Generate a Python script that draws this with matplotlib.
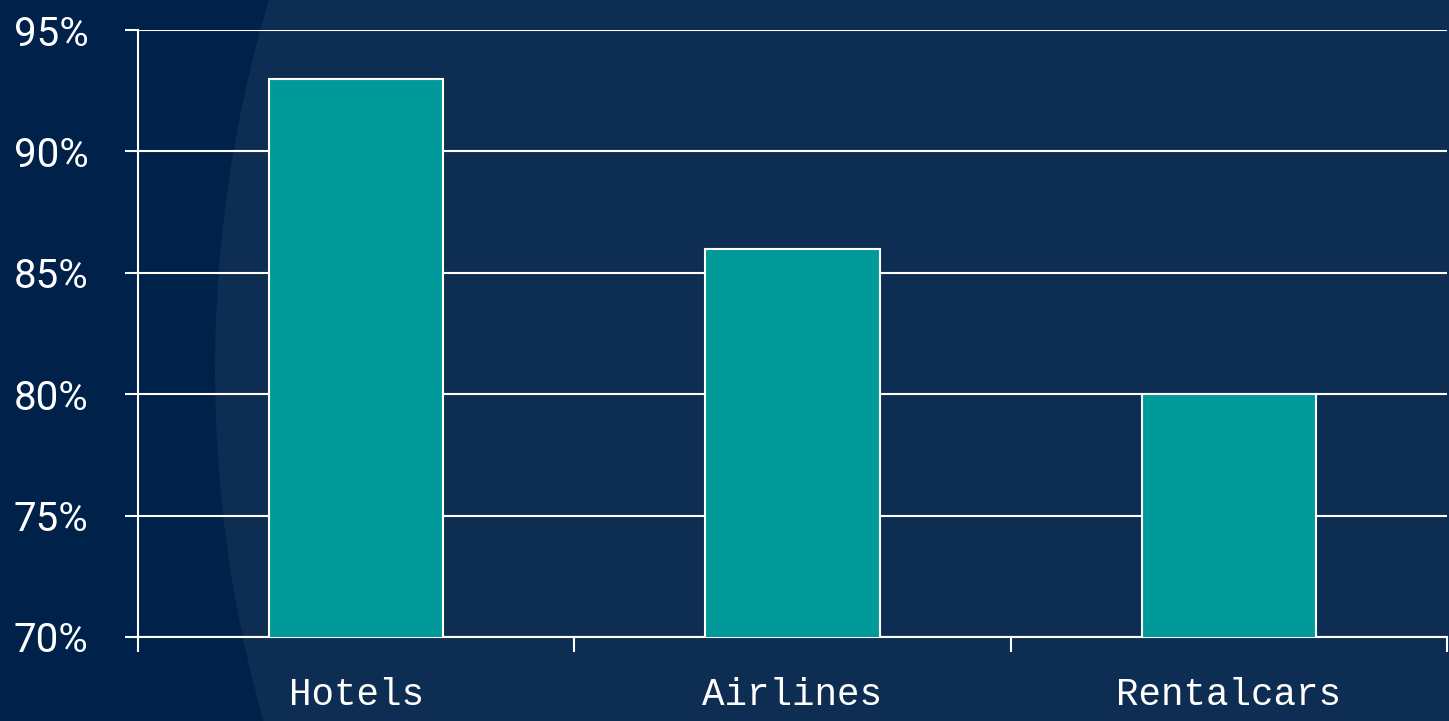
import matplotlib
matplotlib.use("Agg")
import matplotlib.pyplot as plt
from matplotlib.patches import Circle

categories = ["Hotels", "Airlines", "Rentalcars"]
values = [93, 86, 80]
yticks = [70, 75, 80, 85, 90, 95]
ytick_labels = ["70%", "75%", "80%", "85%", "90%", "95%"]

W, H = 1449, 721
fig = plt.figure(figsize=(W / 100, H / 100), dpi=100)
fig.patch.set_facecolor("#002149")

# background with large lighter circle
bg = fig.add_axes([0, 0, 1, 1], zorder=-5)
bg.set_xlim(0, W)
bg.set_ylim(H, 0)
bg.axis("off")
bg.add_patch(Circle((1515, 370), 1300, facecolor="#0e2d52", edgecolor="none"))

ax = fig.add_axes([138 / W, 84 / H, (1447 - 138) / W, 607 / H])
ax.set_facecolor("none")
x = list(range(len(categories)))
ax.bar(x, values, width=0.4, bottom=0, color="#009a9a", edgecolor="white",
       linewidth=1.5, zorder=3)
ax.set_xlim(-0.5, len(categories) - 0.5)
ax.set_ylim(70, 95)
ax.set_yticks(yticks)
ax.set_yticklabels(ytick_labels, fontfamily="Roboto", fontsize=29, color="white")
ax.set_xticks(x)
ax.set_xticklabels(categories, fontfamily="Liberation Mono", fontsize=27, color="white")
ax.set_xticks([i - 0.5 for i in range(len(categories) + 1)], minor=True)
ax.tick_params(axis="x", which="major", length=0, pad=29)
ax.tick_params(axis="x", which="minor", length=11, width=1.5, color="white", direction="out")
ax.tick_params(axis="y", length=9.5, width=1.5, color="white", direction="out", pad=26)
ax.yaxis.grid(True, color="white", linewidth=1.5, zorder=1)
ax.set_axisbelow(True)
for s in ["top", "right"]:
    ax.spines[s].set_visible(False)
for s in ["left", "bottom"]:
    ax.spines[s].set_color("white")
    ax.spines[s].set_linewidth(1.5)

fig.savefig("out.png", dpi=100, facecolor=fig.get_facecolor())
